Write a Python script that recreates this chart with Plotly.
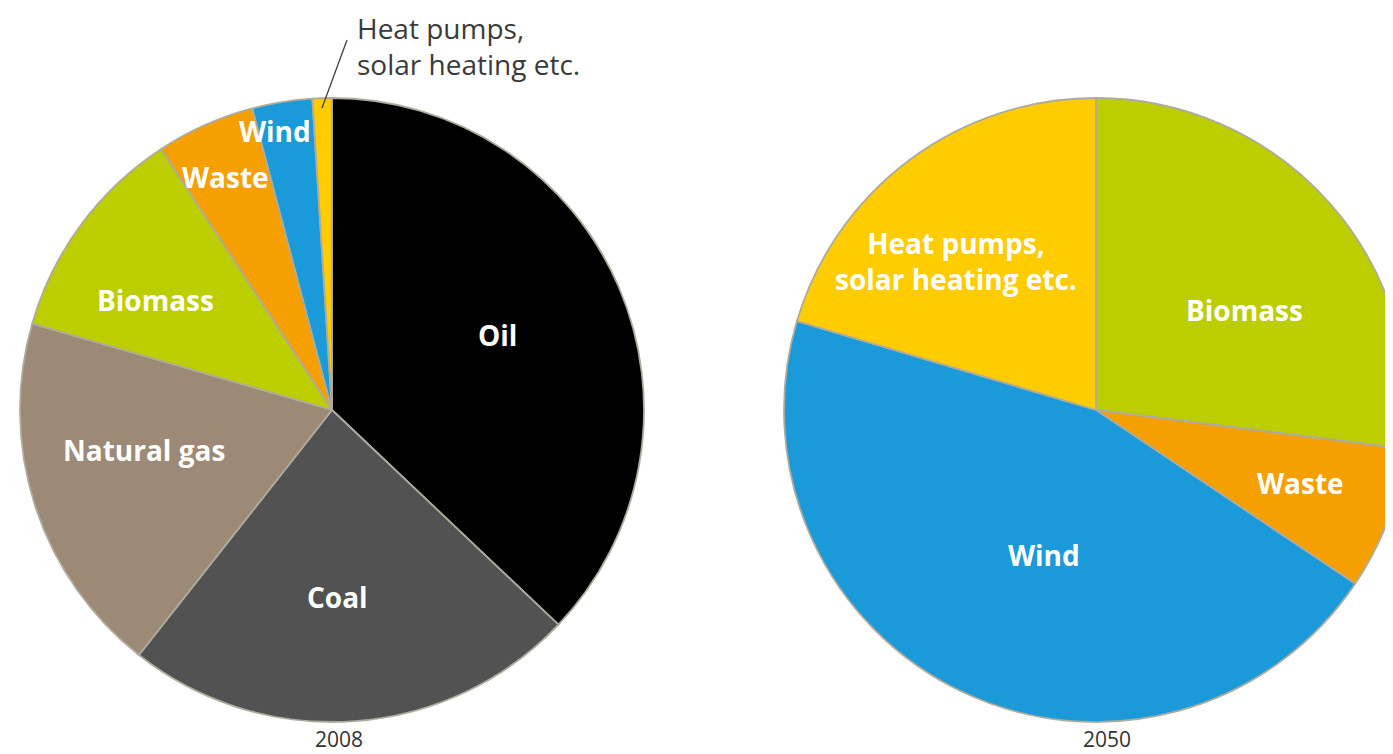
import plotly.graph_objects as go

# 2008 energy mix (%), clockwise from 12 o'clock
labels_2008 = ["Oil", "Coal", "Natural gas", "Biomass", "Waste", "Wind", "Heat pumps, solar heating etc."]
values_2008 = [37.0, 23.5, 18.8, 11.3, 5.1, 3.1, 1.0]
colors_2008 = ["#000000", "#525252", "#9c8a76", "#bccd00", "#f59f00", "#1a9ad8", "#ffcc00"]

# 2050 energy mix (%)
labels_2050 = ["Biomass", "Waste", "Wind", "Heat pumps, solar heating etc."]
values_2050 = [27.0, 7.4, 45.2, 20.4]
colors_2050 = ["#bccd00", "#f59f00", "#1a9ad8", "#ffcc00"]

years = ["2008", "2050"]

# figure is placed at (8, 8) by the page's body margin; it may overflow to the right
OFF = 8
WF, HF = 1440, 746

def fx(x):
    return (x - OFF) / WF

def fy(y):
    return 1 - (y - OFF) / HF

def px(x, y):
    return dict(x=fx(x), y=fy(y), xref="paper", yref="paper")

fig = go.Figure()
fig.add_trace(go.Pie(
    labels=labels_2008, values=values_2008, sort=False, direction="clockwise",
    rotation=0, textinfo="none", hoverinfo="label+percent",
    marker=dict(colors=colors_2008, line=dict(color="#aeab9e", width=1.8)),
    domain=dict(x=[fx(20), fx(644)], y=[fy(722), fy(98)]),
    showlegend=False,
))
fig.add_trace(go.Pie(
    labels=labels_2050, values=values_2050, sort=False, direction="clockwise",
    rotation=0, textinfo="none", hoverinfo="label+percent",
    marker=dict(colors=colors_2050, line=dict(color="#aeab9e", width=1.8)),
    domain=dict(x=[fx(784), fx(1408)], y=[fy(722), fy(98)]),
    showlegend=False,
))

lab_font = dict(family="Open Sans, sans-serif", size=28, color="#ffffff", weight="bold")

annots = []
left_pos = {"Oil": (497, 335), "Coal": (337, 597), "Natural gas": (144, 450),
            "Biomass": (155, 300), "Waste": (226, 177), "Wind": (275, 131)}
for name, (x, y) in left_pos.items():
    annots.append(dict(text=name, showarrow=False, font=lab_font,
                       xanchor="center", yanchor="middle", **px(x, y)))

right_pos = {"Biomass": (1244, 310), "Waste": (1300, 483), "Wind": (1044, 555),
             "Heat pumps,<br>solar heating etc.": (956, 261)}
for name, (x, y) in right_pos.items():
    annots.append(dict(text=name, showarrow=False, font=lab_font,
                       xanchor="center", yanchor="middle", **px(x, y)))

# outside label for the small 2008 slice
annots.append(dict(
    text="Heat pumps,<br>solar heating etc.", showarrow=False, borderpad=0,
    xanchor="left", yanchor="middle", align="left",
    font=dict(family="Open Sans, sans-serif", size=28, color="#3a3a3a"),
    **px(356, 46)))

for yr, cx in zip(years, [339, 1107]):
    annots.append(dict(text=yr, showarrow=False,
                       font=dict(family="Open Sans, sans-serif", size=21, color="#333333"),
                       xanchor="center", yanchor="middle", **px(cx, 739)))

fig.update_layout(
    width=WF, height=HF, margin=dict(l=0, r=0, t=0, b=0),
    paper_bgcolor="#ffffff", plot_bgcolor="#ffffff",
    annotations=annots,
    shapes=[dict(type="line", xref="paper", yref="paper",
                 x0=fx(322), y0=fy(108), x1=fx(347), y1=fy(40),
                 line=dict(color="#404040", width=1.3))],
)

fig.write_html("out.html")
